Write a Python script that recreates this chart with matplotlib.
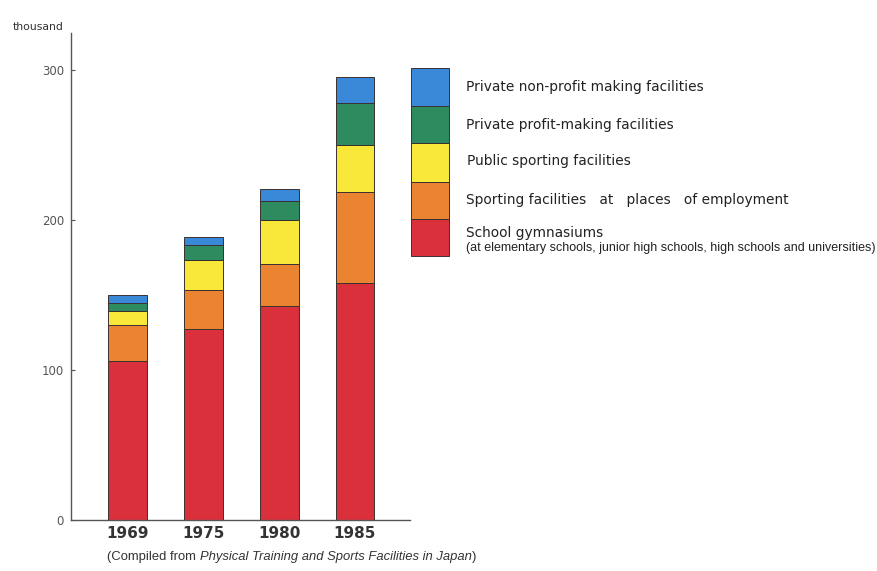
import matplotlib
matplotlib.use("Agg")
import matplotlib.pyplot as plt
from matplotlib.patches import Rectangle
import numpy as np

years = ["1969", "1975", "1980", "1985"]
school = [106, 127.5, 143, 158]
employment = [24, 26, 28, 61]
public = [9.5, 20, 29, 31]
private_profit = [5.5, 10, 12.7, 28]
private_nonprofit = [5, 5, 8, 17.5]

series = [school, employment, public, private_profit, private_nonprofit]
colors = ["#d9303c", "#ea8430", "#f8e83a", "#2e8a5f", "#3a88d8"]
labels = ["School gymnasiums",
          "Sporting facilities   at   places   of employment",
          "Public sporting facilities",
          "Private profit-making facilities",
          "Private non-profit making facilities"]
sublabel = "(at elementary schools, junior high schools, high schools and universities)"
yticks = [0, 100, 200, 300]

plt.rcParams['font.family'] = ['DejaVu Sans']
NARROW = ['Liberation Sans', 'DejaVu Sans']
fig = plt.figure(figsize=(8.77, 5.71), dpi=100)
W, H = 877, 571
ax = fig.add_axes([71 / W, 1 - 520 / H, (410 - 71) / W, (520 - 33) / H])

x = np.arange(len(years))
bottom = np.zeros(len(years))
for vals, c in zip(series, colors):
    ax.bar(x, vals, width=0.515, bottom=bottom, color=c, edgecolor="#3a3030", linewidth=0.7)
    bottom += np.array(vals)

ax.set_xlim(-0.753, 3.727)
ax.set_ylim(0, 324.7)
ax.spines['top'].set_visible(False)
ax.spines['right'].set_visible(False)
for s in ['left', 'bottom']:
    ax.spines[s].set_color('#555555')
    ax.spines[s].set_linewidth(1.0)
ax.set_yticks(yticks)
ax.set_yticklabels([str(t) for t in yticks], fontsize=8.5, color='#555555')
ax.tick_params(axis='y', direction='in', length=3, color='#555555', pad=5)
ax.set_xticks(x)
ax.set_xticklabels(years, fontsize=11, fontweight='bold', color='#333333')
ax.tick_params(axis='x', length=0, pad=4)

fig.text(13 / W, 1 - 27 / H, "thousand", fontsize=7.8, color='#333333', va='center', ha='left')

# legend block
tops = [219, 182, 143, 106, 68]
bots = [256, 219, 182, 143, 106]
for c, t, b in zip(colors, tops, bots):
    fig.patches.append(Rectangle((411 / W, 1 - b / H), 38 / W, (b - t) / H,
                                 transform=fig.transFigure, facecolor=c,
                                 edgecolor="#3a3030", linewidth=0.7))
text_y = [233, 200, 161, 125, 87]
text_x = [466, 466, 467, 466, 466]
for lab, ty, tx in zip(labels, text_y, text_x):
    fig.text(tx / W, 1 - ty / H, lab, fontsize=9.9, color='#222222', va='center', ha='left')
fig.text(466 / W, 1 - 248 / H, sublabel, fontsize=9.0, family=NARROW, color='#222222',
         va='center', ha='left')

cy = 1 - 557 / H
t1 = fig.text(107 / W, cy, "(Compiled from ", fontsize=9.4, family=NARROW, color='#333333',
              va='center', ha='left')
fig.canvas.draw()
r = fig.canvas.get_renderer()
bb = t1.get_window_extent(renderer=r)
t2 = fig.text(bb.x1 / W, cy, "Physical Training and Sports Facilities in Japan", fontsize=9.4,
              family=NARROW, style='italic', color='#333333', va='center', ha='left')
bb2 = t2.get_window_extent(renderer=r)
fig.text((bb2.x1 + 1) / W, cy, ")", fontsize=9.4, family=NARROW, color='#333333', va='center', ha='left')

fig.savefig("out.png", dpi=100, facecolor='white')
